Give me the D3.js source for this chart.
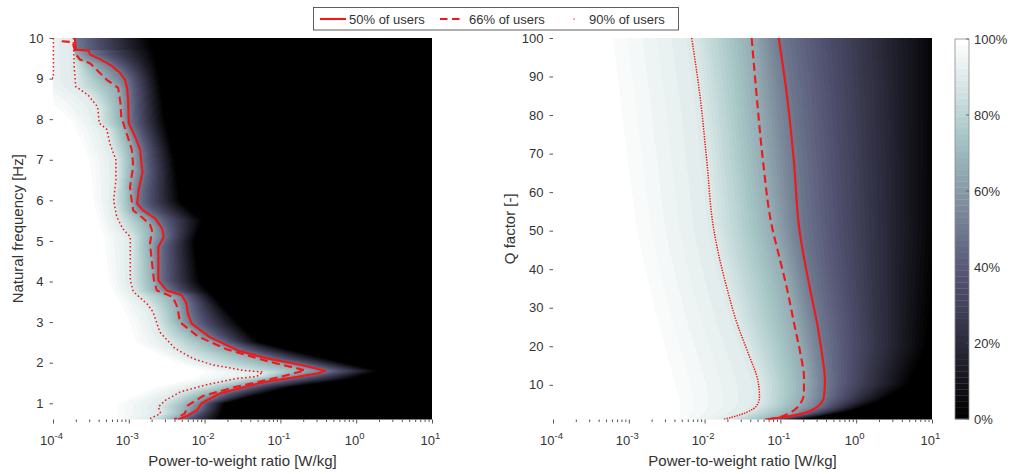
<!DOCTYPE html>
<html>
<head>
<meta charset="utf-8">
<script src="https://cdn.jsdelivr.net/npm/d3@7"></script>
<style>
  html, body { margin: 0; padding: 0; background: #fff; }
  svg { display: block; font-family: "Liberation Sans", Arial, Helvetica, sans-serif; }
</style>
</head>
<body>
<svg id="chart" width="1010" height="474"></svg>
<script>
// ---------------------------------------------------------------
// Share of users (%) for which a structure stays acceptable,
// against power-to-weight ratio (log10 W/kg).
// Contour positions are stored as log10 of the power-to-weight ratio.
// ---------------------------------------------------------------

// Left panel: natural frequency [Hz]
const left50Freq = [10.0, 9.71, 9.69, 9.59, 9.48, 9.32, 9.15, 8.97, 8.73, 8.52, 7.90, 7.58, 7.25, 6.84, 6.70, 6.25, 5.92, 5.75, 5.55, 5.30, 5.10, 4.85, 4.60, 4.03, 3.78, 3.66, 3.46, 3.21, 2.96, 2.63, 2.30, 2.10, 1.95, 1.88, 1.80, 1.74, 1.65, 1.55, 1.44, 1.24, 1.00, 0.83, 0.70, 0.60];
const left50LogP = [-3.71, -3.70, -3.53, -3.51, -3.38, -3.23, -3.12, -3.05, -3.02, -3.01, -3.00, -2.92, -2.85, -2.83, -2.82, -2.87, -2.89, -2.81, -2.65, -2.56, -2.54, -2.61, -2.61, -2.61, -2.50, -2.30, -2.24, -2.22, -2.17, -1.93, -1.56, -1.16, -0.74, -0.58, -0.41, -0.50, -0.77, -1.14, -1.40, -1.80, -2.04, -2.10, -2.22, -2.35];

const left66Freq = [9.92, 9.90, 9.60, 9.47, 9.38, 8.97, 8.77, 8.40, 8.07, 7.66, 7.25, 6.92, 6.74, 6.33, 6.00, 5.75, 5.59, 5.40, 5.26, 4.93, 4.69, 4.03, 3.78, 3.62, 3.37, 3.00, 2.65, 2.33, 2.04, 1.86, 1.81, 1.65, 1.40, 1.18, 0.95, 0.75, 0.60];
const left66LogP = [-3.885, -3.74, -3.70, -3.644, -3.512, -3.29, -3.14, -3.11, -3.10, -3.03, -2.96, -2.945, -2.95, -2.984, -2.962, -2.941, -2.83, -2.72, -2.694, -2.72, -2.707, -2.668, -2.63, -2.42, -2.36, -2.325, -2.09, -1.71, -1.18, -0.78, -0.675, -1.005, -1.60, -2.02, -2.22, -2.26, -2.40];

const left90Freq = [10.0, 9.85, 9.28, 8.80, 8.60, 8.30, 7.90, 7.75, 7.40, 7.00, 6.50, 6.00, 5.60, 5.30, 5.10, 4.03, 3.75, 3.45, 3.25, 2.75, 2.35, 2.10, 1.95, 1.81, 1.77, 1.66, 1.61, 1.45, 1.28, 1.07, 0.91, 0.75, 0.62];
const left90LogP = [-3.73, -3.73, -3.72, -3.70, -3.54, -3.41, -3.39, -3.29, -3.25, -3.17, -3.17, -3.20, -3.16, -3.08, -2.98, -2.98, -2.94, -2.76, -2.68, -2.59, -2.39, -2.15, -1.90, -1.49, -1.23, -1.31, -1.58, -1.99, -2.32, -2.52, -2.61, -2.58, -2.72];

// small 90 % piece along the lower limit of the power axis
const left90EdgeFreq = [10.0, 9.02, 9.0];
const left90EdgeLogP = [-3.995, -3.995, -4.05];

// where the share reaches 100 % (white) and 0 % (black)
const leftWhiteFreq = [0.6, 1.0, 1.4, 1.6, 1.8, 2.0, 2.5, 3.0, 4.0, 5.0, 6.0, 7.0, 8.0, 8.5, 9.0, 10.0];
const leftWhiteLogP = [-3.25, -3.25, -2.72, -2.25, -2.10, -2.45, -2.98, -3.05, -3.31, -3.38, -3.51, -3.58, -3.84, -4.2, -4.6, -4.6];
const leftBlackFreq = [0.6, 1.0, 1.4, 1.6, 1.8, 2.0, 2.5, 3.0, 4.0, 5.0, 5.5, 6.0, 7.0, 8.0, 9.0, 9.6, 10.0];
const leftBlackLogP = [-1.80, -1.73, -0.85, -0.05, 0.30, -0.15, -1.27, -1.55, -2.06, -2.13, -2.02, -2.32, -2.39, -2.52, -2.59, -2.65, -2.72];

// Right panel: Q factor [-]
const right50Q = [100, 85, 67.5, 50, 44, 35, 26, 18, 11, 7, 4.2, 2.4, 1.4, 1.0];
const right50LogP = [-1.022, -0.913, -0.820, -0.748, -0.698, -0.610, -0.517, -0.451, -0.412, -0.425, -0.517, -0.741, -1.045, -1.20];

const right66Q = [100, 85, 67.5, 51, 44, 35, 26, 18, 12, 8, 5, 2.5, 1.5, 1.0];
const right66LogP = [-1.379, -1.313, -1.226, -1.111, -1.025, -0.913, -0.820, -0.735, -0.689, -0.689, -0.741, -0.900, -1.03, -1.16];

const right90Q = [100, 85, 67.5, 51, 44, 35, 26, 18, 11, 6.8, 4.6, 2.9, 1.7, 1.0];
const right90LogP = [-2.170, -2.061, -1.968, -1.885, -1.817, -1.704, -1.573, -1.421, -1.296, -1.276, -1.313, -1.441, -1.621, -1.753];

const rightWhiteQ = [100, 75, 50, 30, 10, 1];
const rightWhiteLogP = [-3.40, -3.25, -3.08, -2.85, -2.59, -2.46];
const rightBlackQ = [100, 50, 20, 10, 6, 3.3, 1.6, 1.0];
const rightBlackLogP = [1.15, 1.10, 0.95, 0.70, 0.35, -0.05, -0.50, -0.75];

// Axis ticks and labels
const powerDecades = [-4, -3, -2, -1, 0, 1];
const freqTicks = [1, 2, 3, 4, 5, 6, 7, 8, 9, 10];
const qTicks = [10, 20, 30, 40, 50, 60, 70, 80, 90, 100];
const shareTicks = [0, 0.2, 0.4, 0.6, 0.8, 1.0];
const shareTickLabels = ["0%", "20%", "40%", "60%", "80%", "100%"];
const legendLabels = ["50% of users", "66% of users", "90% of users"];

// ---------------------------------------------------------------
const RED = "#f01818";
const TEXT = "#333";
const TICK = "#555";

// MATLAB-style "bone" colour map, 64 levels
function bone(t) {
  const c = v => Math.max(0, Math.min(1, v));
  t = c(t);
  const hr = c(t / 0.375), hg = c((t - 0.375) / 0.375), hb = c((t - 0.75) / 0.25);
  return [(7 * t + hb) / 8, (7 * t + hg) / 8, (7 * t + hr) / 8];
}
const LEVELS = 64;
const boneLevel = v => {
  const i = Math.max(0, Math.min(LEVELS - 1, Math.floor(v * LEVELS)));
  return bone(i / (LEVELS - 1));
};
const boneCss = v => { const [r, g, b] = boneLevel(v); return `rgb(${Math.round(r*255)},${Math.round(g*255)},${Math.round(b*255)})`; };

const interp = (dom, rng) => d3.scaleLinear().domain(dom).range(rng).clamp(true);

// share of users at log10 power L given the row's anchor positions
const anchorShares = [1, 0.9, 0.66, 0.5, 0];
function shareAt(L, a) {
  if (L <= a[0]) return 1;
  if (L >= a[4]) return 0;
  for (let k = 0; k < 4; k++) {
    if (L <= a[k + 1]) {
      const t = (L - a[k]) / (a[k + 1] - a[k]);
      return anchorShares[k] + t * (anchorShares[k + 1] - anchorShares[k]);
    }
  }
  return 0;
}

const svg = d3.select("#chart");
svg.append("rect").attr("width", 1010).attr("height", 474).attr("fill", "#fff");

const panels = [
  {
    x: d3.scaleLog().domain([1e-4, 10]).range([53, 432]),
    y: d3.scaleLinear().domain([0.6, 10]).range([419.5, 38]),
    edges: [interp(leftWhiteFreq, leftWhiteLogP), interp(left90Freq, left90LogP), interp(left66Freq, left66LogP), interp(left50Freq, left50LogP), interp(leftBlackFreq, leftBlackLogP)],
    contours: [
      { f: left50Freq, p: left50LogP, kind: 0 },
      { f: left66Freq, p: left66LogP, kind: 1 },
      { f: left90Freq, p: left90LogP, kind: 2 },
      { f: left90EdgeFreq, p: left90EdgeLogP, kind: 2 }
    ],
    curve: d3.curveLinear,
    dotDash: "1.6,2.4",
    yTicks: freqTicks,
    yTitle: "Natural frequency [Hz]",
    yTitleX: 23
  },
  {
    x: d3.scaleLog().domain([1e-4, 10]).range([553, 932]),
    y: d3.scaleLinear().domain([1, 100]).range([419.5, 38]),
    edges: [interp(rightWhiteQ, rightWhiteLogP), interp(right90Q, right90LogP), interp(right66Q, right66LogP), interp(right50Q, right50LogP), interp(rightBlackQ, rightBlackLogP)],
    contours: [
      { f: right50Q, p: right50LogP, kind: 0 },
      { f: right66Q, p: right66LogP, kind: 1 },
      { f: right90Q, p: right90LogP, kind: 2 }
    ],
    curve: d3.curveMonotoneY,
    dotDash: "1.4,1.2",
    yTicks: qTicks,
    yTitle: "Q factor [-]",
    yTitleX: 515
  }
];

const lineStyles = [
  { width: 2.1, dash: null },
  { width: 2.1, dash: "8,4.5" },
  { width: 1.5, dash: "1.5,1.8" }
];

panels.forEach((P, pi) => {
  const [x0, x1] = P.x.range();
  const [yb, yt] = P.y.range();
  const w = Math.round(x1 - x0), h = Math.round(yb - yt);

  // heat map raster
  const canvas = document.createElement("canvas");
  canvas.width = w; canvas.height = h;
  const ctx = canvas.getContext("2d");
  const img = ctx.createImageData(w, h);
  const logAt = d3.range(w).map(i => Math.log10(P.x.invert(x0 + (i + 0.5) * (x1 - x0) / w)));
  for (let j = 0; j < h; j++) {
    const f = P.y.invert(yt + (j + 0.5) * (yb - yt) / h);
    const a = P.edges.map(s => s(f));
    for (let k = 1; k < 5; k++) a[k] = Math.max(a[k], a[k - 1] + 0.002);
    for (let i = 0; i < w; i++) {
      const [r, g, b] = boneLevel(shareAt(logAt[i], a));
      const o = (j * w + i) * 4;
      img.data[o] = Math.round(r * 255);
      img.data[o + 1] = Math.round(g * 255);
      img.data[o + 2] = Math.round(b * 255);
      img.data[o + 3] = 255;
    }
  }
  ctx.putImageData(img, 0, 0);
  svg.append("image")
    .attr("x", x0).attr("y", yt)
    .attr("width", x1 - x0).attr("height", yb - yt)
    .attr("preserveAspectRatio", "none")
    .attr("href", canvas.toDataURL());

  // contour lines
  const clipId = "clip" + pi;
  svg.append("clipPath").attr("id", clipId)
    .append("rect").attr("x", x0 - 1).attr("y", yt).attr("width", x1 - x0 + 1).attr("height", yb - yt);
  const line = d3.line()
    .x(d => P.x(Math.pow(10, d[1])))
    .y(d => P.y(d[0]))
    .curve(P.curve);
  const cg = svg.append("g").attr("clip-path", `url(#${clipId})`);
  P.contours.forEach(c => {
    const st = lineStyles[c.kind];
    cg.append("path")
      .datum(d3.zip(c.f, c.p))
      .attr("d", line)
      .attr("fill", "none")
      .attr("stroke", RED)
      .attr("stroke-width", st.width)
      .attr("stroke-dasharray", c.kind === 2 ? P.dotDash : st.dash)
      .attr("stroke-linejoin", "round");
  });

  // x axis: decade ticks with minor ticks
  const minor = [];
  powerDecades.slice(0, -1).forEach(e => { for (let m = 2; m <= 9; m++) minor.push(m * Math.pow(10, e)); });
  const major = powerDecades.map(e => Math.pow(10, e));
  const gx = svg.append("g").attr("transform", `translate(0,${yb})`);
  gx.append("g").call(d3.axisBottom(P.x).tickValues(minor).tickSize(2.5).tickFormat(""));
  gx.append("g").call(d3.axisBottom(P.x).tickValues(major).tickSize(4).tickFormat(""));
  gx.selectAll(".domain").remove();
  gx.selectAll(".tick line").attr("stroke", TICK);

  const lab = svg.append("g").attr("fill", TEXT).attr("font-size", 13).attr("text-anchor", "middle");
  powerDecades.forEach(e => {
    const t = lab.append("text").attr("x", P.x(Math.pow(10, e)) - 1.5).attr("y", 445);
    t.append("tspan").text("10");
    t.append("tspan").attr("dy", -6).attr("font-size", 9.5).text(String(e));
  });
  svg.append("text")
    .attr("x", (x0 + x1) / 2).attr("y", 465.5)
    .attr("text-anchor", "middle").attr("font-size", 15).attr("fill", TEXT)
    .text("Power-to-weight ratio [W/kg]");

  // y axis
  const gy = svg.append("g").attr("transform", `translate(${x0},0)`)
    .call(d3.axisLeft(P.y).tickValues(P.yTicks).tickSize(3.5).tickPadding(6));
  gy.select(".domain").remove();
  gy.selectAll(".tick line").attr("stroke", TICK);
  gy.selectAll(".tick text").attr("fill", TEXT).attr("font-size", 13)
    .attr("font-family", "Liberation Sans, Arial, sans-serif");
  svg.append("text")
    .attr("transform", `translate(${P.yTitleX},${(yb + yt) / 2}) rotate(-90)`)
    .attr("text-anchor", "middle").attr("font-size", 15).attr("fill", TEXT)
    .text(P.yTitle);
});

// colour bar
const cbX = 955, cbW = 14;
const cbY = d3.scaleLinear().domain([0, 1]).range([419, 39]);
const cb = svg.append("g");
cb.selectAll("rect.level")
  .data(d3.range(LEVELS))
  .join("rect")
  .attr("class", "level")
  .attr("x", cbX).attr("width", cbW)
  .attr("y", i => cbY((i + 1) / LEVELS))
  .attr("height", i => cbY(i / LEVELS) - cbY((i + 1) / LEVELS) + 0.3)
  .attr("fill", i => boneCss((i + 0.5) / LEVELS));
cb.append("rect")
  .attr("x", cbX).attr("y", cbY(1)).attr("width", cbW).attr("height", cbY(0) - cbY(1))
  .attr("fill", "none").attr("stroke", "#8a8a8a").attr("stroke-width", 0.8);
shareTicks.forEach((v, i) => {
  cb.append("line")
    .attr("x1", cbX + cbW - 3).attr("x2", cbX + cbW)
    .attr("y1", cbY(v)).attr("y2", cbY(v))
    .attr("stroke", TICK).attr("stroke-width", 0.8);
  cb.append("text")
    .attr("x", cbX + cbW + 5).attr("y", cbY(v)).attr("dy", "0.35em")
    .attr("font-size", 13).attr("fill", TEXT)
    .text(shareTickLabels[i]);
});

// legend
const lg = svg.append("g");
lg.append("rect").attr("x", 313.5).attr("y", 7.5).attr("width", 365).attr("height", 22.5)
  .attr("fill", "#fff").attr("stroke", "#4d4d4d").attr("stroke-width", 0.9);
const legendItems = [
  { x1: 320, x2: 346, tx: 349 },
  { x1: 440, x2: 462, tx: 469 },
  { x1: 573.3, x2: 574.9, tx: 589 }
];
legendItems.forEach((it, i) => {
  const st = lineStyles[i];
  lg.append("line")
    .attr("x1", it.x1).attr("x2", it.x2).attr("y1", 19).attr("y2", 19)
    .attr("stroke", RED).attr("stroke-width", st.width)
    .attr("stroke-dasharray", i === 1 ? "7.5,4.5" : null)
    .attr("opacity", i === 2 ? 0.6 : 1);
  lg.append("text").attr("x", it.tx).attr("y", 19).attr("dy", "0.35em")
    .attr("font-size", 13).attr("fill", TEXT).text(legendLabels[i]);
});
</script>
</body>
</html>
